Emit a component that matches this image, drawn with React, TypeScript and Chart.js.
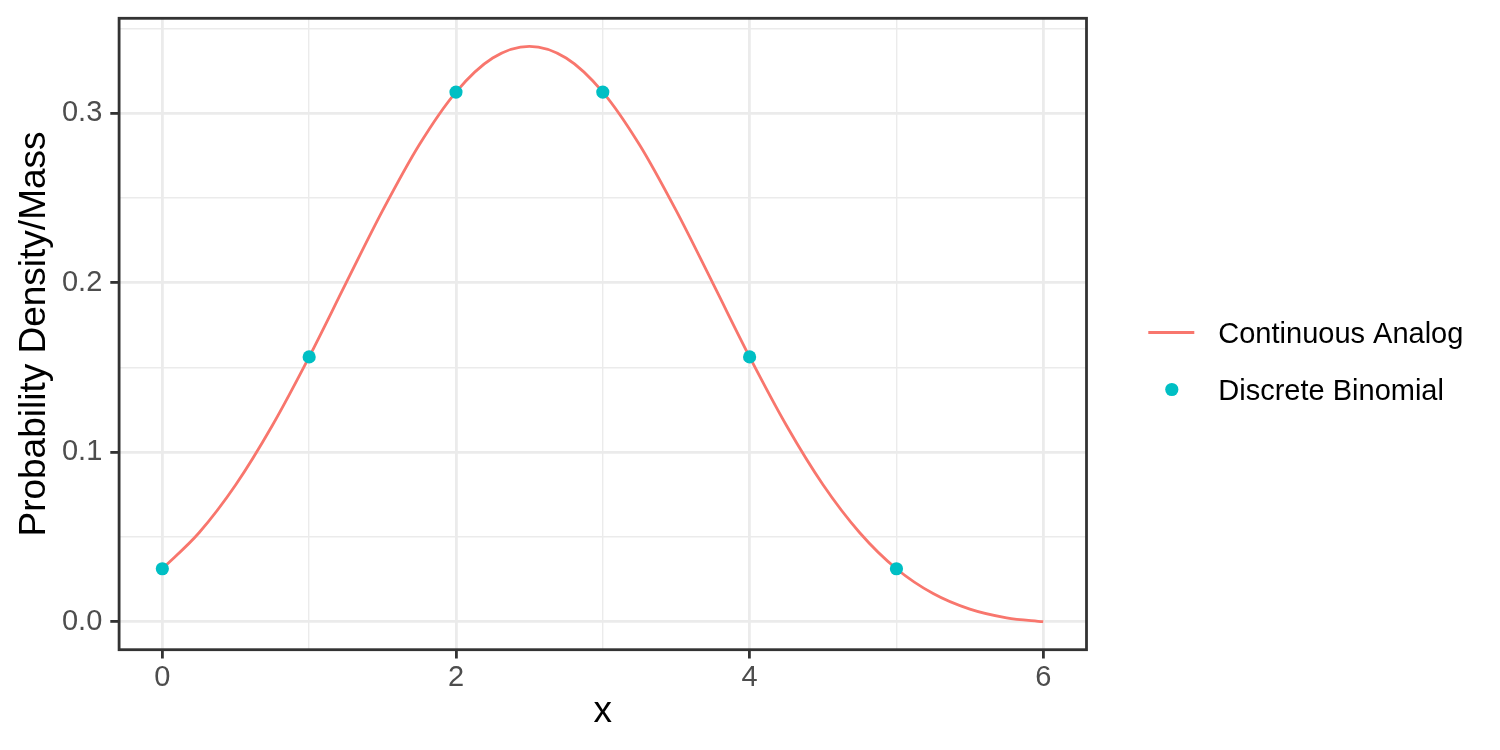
import React, { useEffect, useRef } from 'react';
import { Chart, registerables } from 'chart.js';

Chart.register(...registerables);

// ---- data ----
const seriesNames = ['Continuous Analog', 'Discrete Binomial'];
const curveX = [0, 0.25, 0.5, 0.75, 1, 1.25, 1.5, 1.75, 2, 2.25, 2.5, 2.75, 3, 3.25, 3.5, 3.75, 4, 4.25, 4.5, 4.75, 5, 5.25, 5.5, 5.75, 6];
const curveY = [0.03125, 0.0525, 0.0808, 0.1159, 0.15625, 0.1996, 0.2425, 0.2814, 0.3125, 0.3326, 0.3395, 0.3326, 0.3125, 0.2814, 0.2425, 0.1996, 0.15625, 0.1159, 0.0808, 0.0525, 0.03125, 0.0166, 0.0074, 0.0023, 0];
const pointX = [0, 1, 2, 3, 4, 5];
const pointY = [0.03125, 0.15625, 0.3125, 0.3125, 0.15625, 0.03125];

const xMajor = [0, 2, 4, 6];
const xMajorLabels = ['0', '2', '4', '6'];
const xMinor = [1, 3, 5];
const yMajor = [0, 0.1, 0.2, 0.3];
const yMajorLabels = ['0.0', '0.1', '0.2', '0.3'];
const yMinor = [0.05, 0.15, 0.25, 0.35];
const xRange = [-0.3, 6.3];
const yRange = [-0.017, 0.3565];

const xTitle = 'x';
const yTitle = 'Probability Density/Mass';

// ---- styles ----
const FONT = '"Liberation Sans", Arial, sans-serif';
const LINE_COLOR = '#F8766D';
const POINT_COLOR = '#00BFC4';
const GRID = '#EBEBEB';
const DARK = '#333333';

const panelBorder = {
  id: 'panelBorder',
  afterDatasetsDraw(chart: any) {
    const { ctx, chartArea: a } = chart;
    ctx.save();
    ctx.strokeStyle = DARK;
    ctx.lineWidth = 2.8;
    ctx.strokeRect(a.left + 0.8, a.top + 0.8, a.right - a.left - 1.6, a.bottom - a.top - 1.6);
    ctx.restore();
  },
};

const customLegend = {
  id: 'customLegend',
  afterDraw(chart: any) {
    const { ctx, chartArea: a } = chart;
    const x0 = a.right + 61;
    ctx.save();
    ctx.strokeStyle = LINE_COLOR;
    ctx.lineWidth = 2.8;
    ctx.beginPath();
    ctx.moveTo(x0, 332.5);
    ctx.lineTo(x0 + 46, 332.5);
    ctx.stroke();
    ctx.fillStyle = POINT_COLOR;
    ctx.beginPath();
    ctx.arc(x0 + 23.5, 389.5, 6.6, 0, Math.PI * 2);
    ctx.fill();
    ctx.fillStyle = '#000000';
    ctx.font = `29px ${FONT}`;
    ctx.textBaseline = 'middle';
    ctx.textAlign = 'left';
    ctx.fillText(seriesNames[0], x0 + 70, 335);
    ctx.fillText(seriesNames[1], x0 + 70, 392);
    ctx.restore();
  },
};

export default function App() {
  const ref = useRef<HTMLCanvasElement | null>(null);

  useEffect(() => {
    document.body.style.margin = '0';
    if (!ref.current) return;
    const isXMajor = (v: number) => xMajor.indexOf(v) >= 0;
    const isYMajor = (v: number) => yMajor.indexOf(v) >= 0;

    const chart = new Chart(ref.current, {
      type: 'scatter',
      data: {
        datasets: [
          {
            label: seriesNames[1],
            data: pointX.map((x, i) => ({ x, y: pointY[i] })),
            backgroundColor: POINT_COLOR,
            borderWidth: 0,
            pointRadius: 6.6,
            showLine: false,
            order: 0,
          },
          {
            label: seriesNames[0],
            data: curveX.map((x, i) => ({ x, y: curveY[i] })),
            borderColor: LINE_COLOR,
            borderWidth: 2.8,
            pointRadius: 0,
            showLine: true,
            cubicInterpolationMode: 'monotone',
            order: 1,
          } as any,
        ],
      },
      options: {
        animation: false,
        responsive: false,
        layout: { padding: { top: 0, left: 0, bottom: 0, right: 412.7 } },
        plugins: { legend: { display: false }, tooltip: { enabled: false } },
        scales: {
          x: {
            type: 'linear',
            min: xRange[0],
            max: xRange[1],
            afterBuildTicks: (s: any) => {
              s.ticks = [...xMajor, ...xMinor].sort((a, b) => a - b).map((v) => ({ value: v }));
            },
            afterFit: (s: any) => {
              s.height = 99.5;
              s.paddingLeft = 0;
              s.paddingRight = 0;
              s.paddingTop = 0;
              s.paddingBottom = 0;
            },
            ticks: {
              autoSkip: false,
              maxRotation: 0,
              padding: 2,
              color: '#4D4D4D',
              font: { family: FONT, size: 29 },
              callback: (v: any) => {
                const i = xMajor.indexOf(Number(v));
                return i >= 0 ? xMajorLabels[i] : '';
              },
            },
            grid: {
              color: GRID,
              lineWidth: (c: any) => (isXMajor(c.tick?.value) ? 2.8 : 1.4),
              tickColor: (c: any) => (isXMajor(c.tick?.value) ? DARK : 'rgba(0,0,0,0)'),
              tickWidth: 2.8,
              tickLength: 8,
              drawTicks: true,
            },
            border: { display: false },
            title: {
              display: true,
              text: xTitle,
              color: '#000000',
              font: { family: FONT, size: 37 },
              padding: { top: 0, bottom: 16 },
            },
          },
          y: {
            type: 'linear',
            min: yRange[0],
            max: yRange[1],
            afterBuildTicks: (s: any) => {
              s.ticks = [...yMajor, ...yMinor].sort((a, b) => a - b).map((v) => ({ value: v }));
            },
            afterFit: (s: any) => {
              s.width = 118.3;
              s.paddingTop = 17.5;
              s.paddingBottom = 0;
              s.paddingLeft = 0;
              s.paddingRight = 0;
            },
            ticks: {
              autoSkip: false,
              padding: 8,
              color: '#4D4D4D',
              font: { family: FONT, size: 29 },
              callback: (v: any) => {
                const i = yMajor.indexOf(Number(v));
                return i >= 0 ? yMajorLabels[i] : '';
              },
            },
            grid: {
              color: GRID,
              lineWidth: (c: any) => (isYMajor(c.tick?.value) ? 2.8 : 1.4),
              tickColor: (c: any) => (isYMajor(c.tick?.value) ? DARK : 'rgba(0,0,0,0)'),
              tickWidth: 2.8,
              tickLength: 8,
              drawTicks: true,
            },
            border: { display: false },
            title: {
              display: true,
              text: yTitle,
              color: '#000000',
              font: { family: FONT, size: 37 },
              padding: { top: 12.5, bottom: 0 },
            },
          },
        },
      } as any,
      plugins: [panelBorder, customLegend],
    });
    return () => chart.destroy();
  }, []);

  return (
    <div style={{ width: 1500, height: 750, background: '#ffffff' }}>
      <canvas ref={ref} width={1500} height={750} style={{ display: 'block' }} />
    </div>
  );
}
